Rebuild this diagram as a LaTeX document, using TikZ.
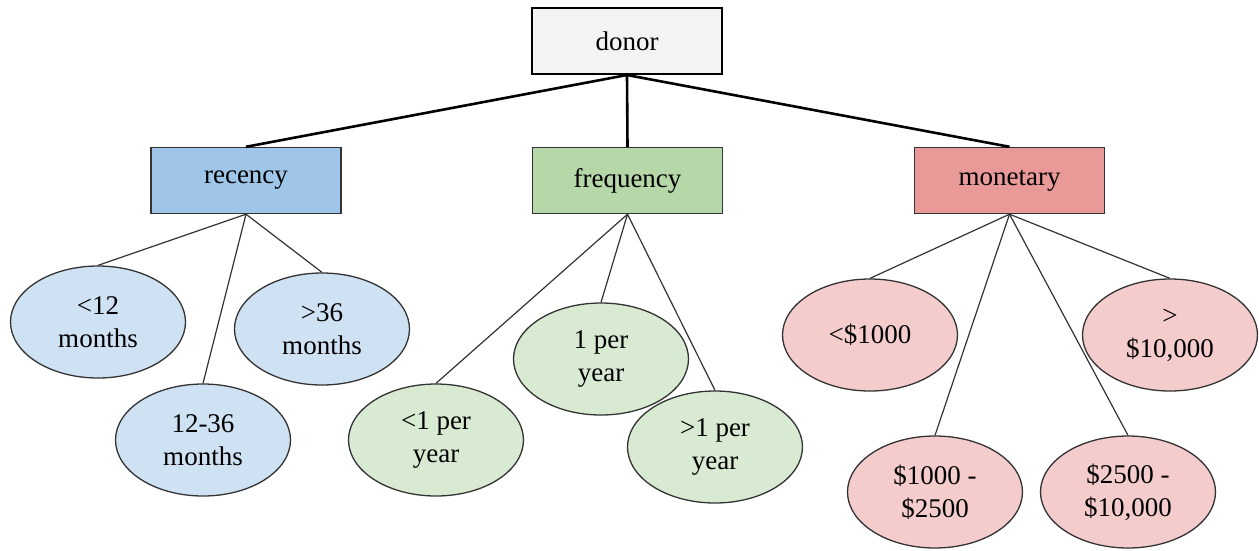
\documentclass[tikz,border=0pt]{standalone}
\usepackage{fontspec}
\setmainfont{Liberation Serif}
\usetikzlibrary{shapes.geometric}
\definecolor{bordc}{HTML}{333333}
\definecolor{donorfill}{HTML}{F3F3F3}
\definecolor{recfill}{HTML}{9FC5E8}
\definecolor{freqfill}{HTML}{B6D7A8}
\definecolor{monfill}{HTML}{EA9999}
\definecolor{recleaf}{HTML}{CFE2F3}
\definecolor{freqleaf}{HTML}{D9EAD3}
\definecolor{monleaf}{HTML}{F4CCCC}
\begin{document}
\begin{tikzpicture}[x=1pt,y=-1pt,
  box/.style={rectangle,draw=bordc,line width=1.4pt,minimum width=190pt,minimum height=66pt,inner sep=0pt,font=\fontsize{27}{33}\selectfont},
  leaf/.style={ellipse,draw=bordc,line width=1.3pt,minimum width=175pt,minimum height=112pt,inner sep=0pt,align=center,font=\fontsize{27}{33}\selectfont},
  topedge/.style={line width=2.6pt,black},
  subedge/.style={line width=1.2pt,bordc}]
\useasboundingbox (0,0) rectangle (1259,550);

\node[box,fill=donorfill,draw=black,line width=2pt] (donor) at (627,41) {donor};
\node[box,fill=recfill] (rec) at (246,180.5) {recency};
\node[box,fill=freqfill] (freq) at (627.5,180.5) {frequency};
\node[box,fill=monfill] (mon) at (1009.5,180.5) {monetary};

\node[leaf,fill=recleaf] (r1) at (98,322) {<12\\months};
\node[leaf,fill=recleaf] (r3) at (322,329) {>36\\months};
\node[leaf,fill=recleaf] (r2) at (203,440) {12-36\\months};

\node[leaf,fill=freqleaf] (f1) at (436,440) {<1 per\\year};
\node[leaf,fill=freqleaf] (f2) at (601,359) {1 per\\year};
\node[leaf,fill=freqleaf] (f3) at (715,447) {>1 per\\year};

\node[leaf,fill=monleaf] (m1) at (870,335) {<\$1000};
\node[leaf,fill=monleaf] (m4) at (1170,335) {>\\\$10,000};
\node[leaf,fill=monleaf] (m2) at (935,492) {\$1000 -\\\$2500};
\node[leaf,fill=monleaf] (m3) at (1128,492) {\$2500 -\\\$10,000};

\draw[topedge] (donor.south) -- (rec.north);
\draw[topedge] (donor.south) -- (freq.north);
\draw[topedge] (donor.south) -- (mon.north);

\draw[subedge] (rec.south) -- (r1.north);
\draw[subedge] (rec.south) -- (r2.north);
\draw[subedge] (rec.south) -- (r3.north);

\draw[subedge] (freq.south) -- (f1.north);
\draw[subedge] (freq.south) -- (f2.north);
\draw[subedge] (freq.south) -- (f3.north);

\draw[subedge] (mon.south) -- (m1.north);
\draw[subedge] (mon.south) -- (m2.north);
\draw[subedge] (mon.south) -- (m3.north);
\draw[subedge] (mon.south) -- (m4.north);
\end{tikzpicture}
\end{document}
